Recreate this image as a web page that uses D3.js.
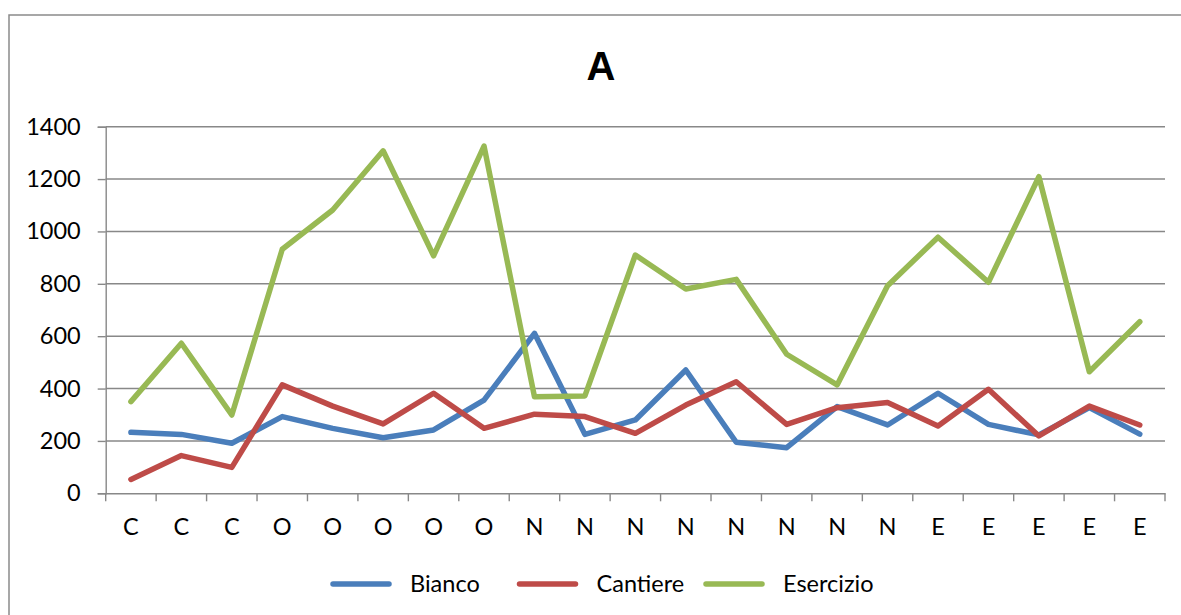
<!DOCTYPE html>
<html>
<head>
<meta charset="utf-8">
<script src="https://cdn.jsdelivr.net/npm/d3@7"></script>
<style>
  html, body { margin: 0; padding: 0; background: #fff; }
  svg { display: block; }
  text { font-family: Lato, "Open Sans", sans-serif; fill: #000; }
</style>
</head>
<body>
<svg id="chart" width="1181" height="615"></svg>
<script>
// Category labels along the x axis
const categories = ["C","C","C","O","O","O","O","O","N","N","N","N","N","N","N","N","E","E","E","E","E"];

// Series values
const bianco    = [233, 225, 191, 293, 248, 212, 242, 356, 611, 225, 280, 471, 195, 174, 331, 261, 382, 263, 223, 327, 226];
const cantiere  = [53, 144, 99, 414, 333, 265, 382, 248, 302, 293, 229, 337, 426, 263, 327, 347, 257, 397, 219, 333, 261];
const esercizio = [350, 573, 299, 932, 1082, 1308, 907, 1326, 369, 372, 910, 780, 817, 531, 414, 793, 978, 806, 1209, 464, 655];

// Y axis tick values
const yTicks = [0, 200, 400, 600, 800, 1000, 1200, 1400];

const seriesNames = ["Bianco", "Cantiere", "Esercizio"];
const seriesColors = ["#4A7EBB", "#BE4B48", "#98B954"];
const seriesData = [bianco, cantiere, esercizio];

const labelFont = "Lato, 'Open Sans', sans-serif";
const labelSize = "23.5px";

const svg = d3.select("#chart");

// Chart frame
svg.append("rect")
  .attr("x", 9).attr("y", 15)
  .attr("width", 1300).attr("height", 700)
  .attr("fill", "#fff")
  .attr("stroke", "#8a8a8a").attr("stroke-width", 1.5);

const plot = { left: 105.7, right: 1165, top: 126.7, bottom: 493.3 };

const x = d3.scaleBand()
  .domain(d3.range(categories.length))
  .range([plot.left, plot.right])
  .paddingInner(0).paddingOuter(0);

const y = d3.scaleLinear()
  .domain([0, 1400])
  .range([plot.bottom, plot.top]);

// Horizontal gridlines
svg.append("g")
  .selectAll("line")
  .data(yTicks.filter(d => d > 0))
  .join("line")
  .attr("x1", plot.left).attr("x2", plot.right)
  .attr("y1", d => y(d)).attr("y2", d => y(d))
  .attr("stroke", "#888").attr("stroke-width", 1.4);

// Y axis
const yAxis = svg.append("g")
  .attr("transform", `translate(${plot.left},0)`)
  .call(d3.axisLeft(y).tickValues(yTicks).tickSize(8).tickPadding(17).tickFormat(d3.format("d")));
yAxis.select(".domain").attr("stroke", "#888").attr("stroke-width", 1.4);
yAxis.selectAll(".tick line").attr("stroke", "#888").attr("stroke-width", 1.4);
yAxis.selectAll(".tick text")
  .style("font-family", labelFont)
  .style("font-size", labelSize)
  .attr("fill", "#000");

// X axis with category labels
const xAxis = svg.append("g")
  .attr("transform", `translate(0,${plot.bottom})`)
  .call(d3.axisBottom(x).tickSize(0).tickFormat(i => categories[i]));
xAxis.select(".domain").attr("stroke", "#888").attr("stroke-width", 1.4);
xAxis.selectAll(".tick text")
  .attr("y", 41.5).attr("dy", 0)
  .style("font-family", labelFont)
  .style("font-size", labelSize)
  .attr("fill", "#000");

// Tick marks at the category boundaries
svg.append("g")
  .selectAll("line")
  .data(d3.range(categories.length + 1))
  .join("line")
  .attr("x1", i => plot.left + i * x.step())
  .attr("x2", i => plot.left + i * x.step())
  .attr("y1", plot.bottom).attr("y2", plot.bottom + 8)
  .attr("stroke", "#888").attr("stroke-width", 1.4);

// Series lines
const line = d3.line()
  .x((d, i) => x(i) + x.bandwidth() / 2)
  .y(d => y(d));

svg.append("g")
  .selectAll("path")
  .data(seriesData)
  .join("path")
  .attr("d", d => line(d))
  .attr("fill", "none")
  .attr("stroke", (d, i) => seriesColors[i])
  .attr("stroke-width", 5.5)
  .attr("stroke-linejoin", "round")
  .attr("stroke-linecap", "round");

// Title
svg.append("text")
  .attr("x", 601).attr("y", 80)
  .attr("text-anchor", "middle")
  .style("font-family", "'Liberation Sans', Arial, sans-serif")
  .style("font-weight", "bold")
  .style("font-size", "40px")
  .text("A");

// Legend
const legend = svg.append("g")
  .selectAll("g")
  .data(seriesNames)
  .join("g")
  .attr("transform", (d, i) => `translate(${333 + i * 186.5},584)`);

legend.append("line")
  .attr("x1", 0).attr("x2", 56)
  .attr("y1", 0).attr("y2", 0)
  .attr("stroke", (d, i) => seriesColors[i])
  .attr("stroke-width", 5.5)
  .attr("stroke-linecap", "round");

legend.append("text")
  .attr("x", 77).attr("y", 8)
  .style("font-family", labelFont)
  .style("font-size", labelSize)
  .text(d => d);
</script>
</body>
</html>
